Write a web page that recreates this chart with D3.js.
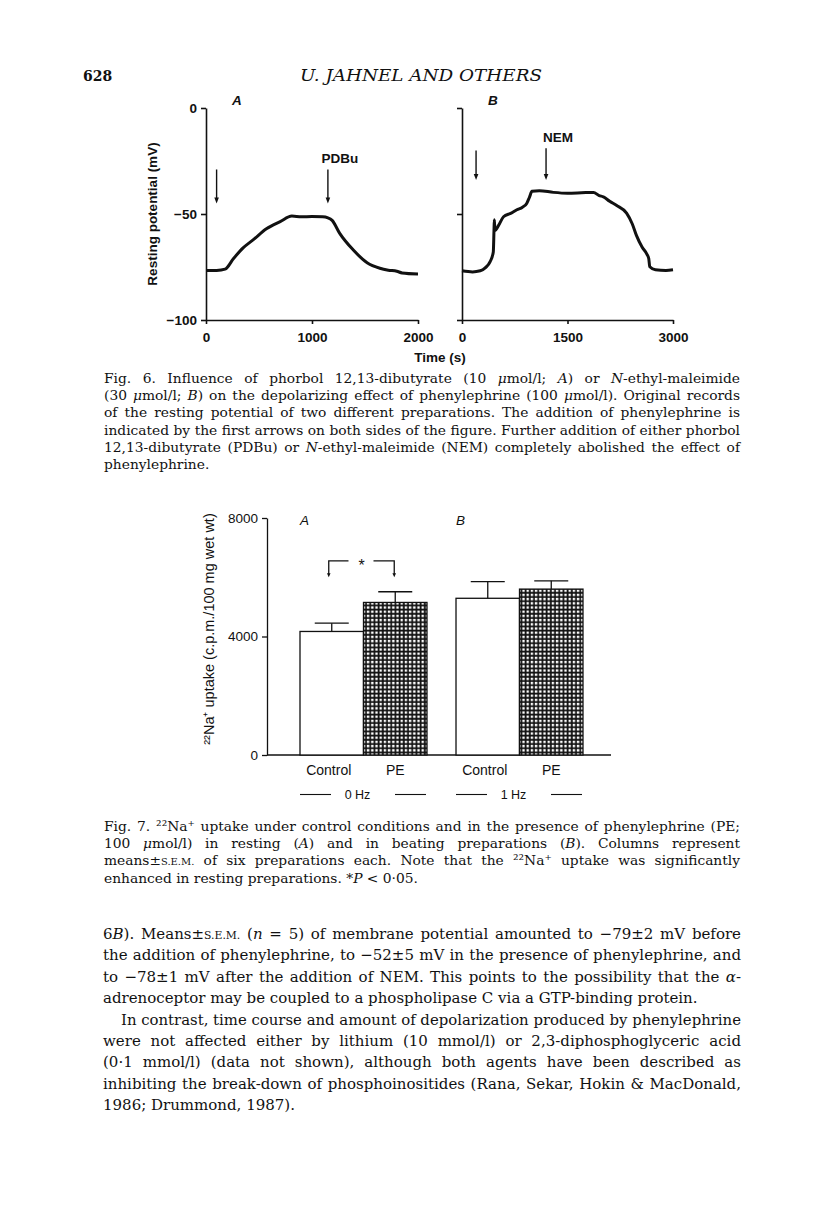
<!DOCTYPE html>
<html>
<head>
<meta charset="utf-8">
<script src="https://cdn.jsdelivr.net/npm/d3@7"></script>
<style>
  body { margin: 0; background: #fff; }
  svg { display: block; }
  .serif { font-family: "DejaVu Serif", "Liberation Serif", serif; fill: #111; }
  .sans { font-family: "Liberation Sans", Arial, sans-serif; fill: #111; }
</style>
</head>
<body>
<div id="page"></div>
<script>
// ---- Fig. 6 data: resting potential records (time in s, potential in mV) ----
var traceATime = [0, 100, 180, 260, 350, 450, 570, 700, 810, 900, 1000, 1100, 1150, 1190, 1260, 1390, 1520, 1640, 1720, 1800, 1850, 2000];
var traceAValue = [-76.7, -76.6, -76, -71, -66, -62, -57, -53.6, -51, -51.3, -51.2, -51.3, -51.8, -53, -59, -67, -73, -75.6, -76.5, -77, -77.8, -78.3];
var traceBTime = [0, 150, 260, 330, 400, 445, 455, 460, 468, 520, 590, 700, 780, 860, 920, 960, 995, 1100, 1300, 1500, 1700, 1870, 1950, 2010, 2100, 2200, 2340, 2420, 2480, 2560, 2630, 2655, 2670, 2750, 2900, 3000];
var traceBValue = [-76.8, -77.3, -76.8, -75.4, -72.5, -67.9, -57.7, -52.7, -57.7, -55.4, -51.3, -49.6, -48, -46.8, -45, -42, -39.3, -39, -39.8, -40.2, -40, -39.8, -41.3, -41.9, -44, -46, -49.6, -54.6, -60.1, -65.6, -69, -71, -74.9, -76.3, -76.6, -76.3];
var yTicks6 = [0, -50, -100];
var xTicksA = [0, 1000, 2000];
var xTicksB = [0, 1500, 3000];
// arrows: [time, top mV, bottom mV, label]
var arrowsA = [[100, -29, -45, ""], [1150, -29, -45, "PDBu"]];
var arrowsB = [[200, -20, -34, ""], [1195, -19, -34, "NEM"]];

// ---- Fig. 7 data: 22Na+ uptake (c.p.m./100 mg wet wt) ----
var groups = ["A", "B"];
var groupNames = ["0 Hz", "1 Hz"];
var conditions = ["Control", "PE"];
var uptakeMean = { A: [4170, 5150], B: [5290, 5600] };
var uptakeSem = { A: [280, 360], B: [560, 280] };
var yTicks7 = [0, 4000, 8000];
var bracketTop = 6550, bracketBottom = 6000;

// ---- page text (_italic_, {small caps}); the last line of a paragraph is not justified ----
var captionFig6 = [
  "Fig. 6. Influence of phorbol 12,13-dibutyrate (10 _μ_mol/l; _A_) or _N_-ethyl-maleimide",
  "(30 _μ_mol/l; _B_) on the depolarizing effect of phenylephrine (100 _μ_mol/l). Original records",
  "of the resting potential of two different preparations. The addition of phenylephrine is",
  "indicated by the first arrows on both sides of the figure. Further addition of either phorbol",
  "12,13-dibutyrate (PDBu) or _N_-ethyl-maleimide (NEM) completely abolished the effect of",
  "phenylephrine."
];
var captionFig7 = [
  "Fig. 7. ²²Na⁺ uptake under control conditions and in the presence of phenylephrine (PE;",
  "100 _μ_mol/l) in resting (_A_) and in beating preparations (_B_). Columns represent",
  "means±{S.E.M.} of six preparations each. Note that the ²²Na⁺ uptake was significantly",
  "enhanced in resting preparations. *_P_ < 0·05."
];
var bodyText = [
  "6_B_). Means±{S.E.M.} (_n_ = 5) of membrane potential amounted to −79±2 mV before",
  "the addition of phenylephrine, to −52±5 mV in the presence of phenylephrine, and",
  "to −78±1 mV after the addition of NEM. This points to the possibility that the _α_-",
  "adrenoceptor may be coupled to a phospholipase C via a GTP-binding protein.",
  "In contrast, time course and amount of depolarization produced by phenylephrine",
  "were not affected either by lithium (10 mmol/l) or 2,3-diphosphoglyceric acid",
  "(0·1 mmol/l) (data not shown), although both agents have been described as",
  "inhibiting the break-down of phosphoinositides (Rana, Sekar, Hokin & MacDonald,",
  "1986; Drummond, 1987)."
];
var bodyLastLines = [3, 8];

var W = 816, H = 1206;
var svg = d3.select("#page").append("svg").attr("width", W).attr("height", H);
svg.append("rect").attr("width", W).attr("height", H).attr("fill", "#fff");

// writes a line with _italic_ and {small caps} markup; justified to xEnd when given
function writeLine(g, str, x, y, size, xEnd) {
  var t = g.append("text").attr("class", "serif").attr("x", x).attr("y", y).style("font-size", size + "px");
  var parts = str.split(/(_[^_]*_|\{[^}]*\})/);
  parts.forEach(function(p) {
    if (!p) return;
    if (p[0] == "_") {
      t.append("tspan").style("font-style", "italic").text(p.slice(1, -1));
    } else if (p[0] == "{") {
      t.append("tspan").style("font-size", (size * 0.72) + "px").text(p.slice(1, -1));
    } else {
      t.append("tspan").text(p);
    }
  });
  if (!xEnd) return t;
  var target = xEnd - x;
  var natural = t.node().getComputedTextLength();
  var spaces = str.split(" ").length - 1;
  if (natural < target && spaces > 0) {
    t.style("word-spacing", ((target - natural) / spaces) + "px");
  } else {
    t.attr("textLength", target).attr("lengthAdjust", "spacingAndGlyphs");
  }
  return t;
}

// header
svg.append("text").attr("class", "serif").attr("x", 83).attr("y", 81)
  .style("font-size", "14px").style("font-weight", "bold").text("628");
svg.append("text").attr("class", "serif").attr("x", 300).attr("y", 81)
  .style("font-size", "17px").style("font-style", "italic")
  .attr("textLength", 242).attr("lengthAdjust", "spacingAndGlyphs")
  .text("U. JAHNEL AND OTHERS");

// ================= Fig. 6 =================
var y6 = d3.scaleLinear().domain([0, -100]).range([108, 320]);
var xA = d3.scaleLinear().domain([0, 2000]).range([206, 418]);
var xB = d3.scaleLinear().domain([0, 3000]).range([462, 673]);
var fig6 = svg.append("g");

function drawPanel(x, times, values, xticks, showYLabels, arrows, label) {
  var g = fig6.append("g");
  var yAxis = d3.axisLeft(y6).tickValues(yTicks6).tickSize(5).tickSizeOuter(0)
    .tickFormat(showYLabels ? function(d) { return d == 0 ? "0" : "−" + Math.abs(d); } : "");
  var ya = g.append("g").attr("transform", "translate(" + x.range()[0] + ",0)").call(yAxis);
  var xa = g.append("g").attr("transform", "translate(0," + y6(-100) + ")")
    .call(d3.axisBottom(x).tickValues(xticks).tickSize(4).tickSizeOuter(0).tickPadding(8).tickFormat(d3.format("d")));
  [ya, xa].forEach(function(a) {
    a.selectAll("path, line").attr("stroke", "#111").attr("stroke-width", 1.6);
    a.selectAll("text").attr("class", "sans").style("font-size", "13.5px").style("font-weight", "bold").attr("fill", "#111");
  });
  ya.selectAll("text").attr("dx", "-1");

  var pts = times.map(function(t, i) { return [t, values[i]]; });
  var line = d3.line().x(function(d) { return x(d[0]); }).y(function(d) { return y6(d[1]); }).curve(d3.curveMonotoneX);
  g.append("path").datum(pts).attr("d", line).attr("fill", "none")
    .attr("stroke", "#111").attr("stroke-width", 3).attr("stroke-linejoin", "round");

  arrows.forEach(function(a) {
    var ax = x(a[0]), top = y6(a[1]), bot = y6(a[2]);
    g.append("line").attr("x1", ax).attr("x2", ax).attr("y1", top).attr("y2", bot - 5)
      .attr("stroke", "#111").attr("stroke-width", 1.4);
    g.append("path").attr("d", "M" + (ax - 2.3) + "," + (bot - 6) + "L" + (ax + 2.3) + "," + (bot - 6) + "L" + ax + "," + bot + "Z")
      .attr("fill", "#111");
    if (a[3]) {
      g.append("text").attr("class", "sans").attr("x", ax + 12).attr("y", top - 6)
        .attr("text-anchor", "middle").style("font-size", "13.5px").style("font-weight", "bold").text(a[3]);
    }
  });
  g.append("text").attr("class", "sans").attr("x", x.range()[0] + 26).attr("y", 105)
    .style("font-size", "13.5px").style("font-style", "italic").style("font-weight", "bold").text(label);
}
drawPanel(xA, traceATime, traceAValue, xTicksA, true, arrowsA, "A");
drawPanel(xB, traceBTime, traceBValue, xTicksB, false, arrowsB, "B");

fig6.append("text").attr("class", "sans").attr("transform", "translate(157,214) rotate(-90)")
  .attr("text-anchor", "middle").style("font-size", "13.5px").style("font-weight", "bold")
  .text("Resting potential (mV)");
fig6.append("text").attr("class", "sans").attr("x", 440).attr("y", 362)
  .attr("text-anchor", "middle").style("font-size", "13.5px").style("font-weight", "bold").text("Time (s)");

var capTop6 = 383, capStep = 17.2, capSize = 13.8;
captionFig6.forEach(function(s, i) {
  writeLine(svg, s, 104, capTop6 + i * capStep, capSize, i < captionFig6.length - 1 ? 740 : null);
});

// ================= Fig. 7 =================
var fig7 = svg.append("g");
var defs = svg.append("defs");
var pat = defs.append("pattern").attr("id", "grid").attr("patternUnits", "userSpaceOnUse")
  .attr("width", 4.2).attr("height", 4.2);
pat.append("rect").attr("width", 4.2).attr("height", 4.2).attr("fill", "#111");
pat.append("rect").attr("x", 1.5).attr("y", 1.5).attr("width", 2.4).attr("height", 2.4).attr("fill", "#fff");

var y7 = d3.scaleLinear().domain([0, 8000]).range([755, 518]);
var xGroup = d3.scaleBand().domain(groups).range([300, 583]).paddingInner(0.186);
var xCond = d3.scaleBand().domain(conditions).range([0, xGroup.bandwidth()]);

var ya7 = fig7.append("g").attr("transform", "translate(267,0)")
  .call(d3.axisLeft(y7).tickValues(yTicks7).tickSize(5).tickSizeOuter(0).tickPadding(4).tickFormat(d3.format("d")));
ya7.selectAll("path, line").attr("stroke", "#111").attr("stroke-width", 1.3);
ya7.selectAll("text").attr("class", "sans").style("font-size", "13.5px").attr("fill", "#111");
fig7.append("line").attr("x1", 267).attr("x2", 611).attr("y1", y7(0)).attr("y2", y7(0))
  .attr("stroke", "#111").attr("stroke-width", 1.3);

var bars = [];
groups.forEach(function(gk) {
  conditions.forEach(function(c, i) {
    bars.push({ group: gk, cond: c, mean: uptakeMean[gk][i], sem: uptakeSem[gk][i] });
  });
});
function barMid(d) { return xGroup(d.group) + xCond(d.cond) + xCond.bandwidth() / 2; }
var barG = fig7.selectAll(".bar").data(bars).enter().append("g");
barG.append("line")
  .attr("x1", barMid).attr("x2", barMid)
  .attr("y1", function(d) { return y7(d.mean); })
  .attr("y2", function(d) { return y7(d.mean + d.sem); })
  .attr("stroke", "#111").attr("stroke-width", 1.3);
barG.append("line")
  .attr("x1", function(d) { return barMid(d) - 17; })
  .attr("x2", function(d) { return barMid(d) + 17; })
  .attr("y1", function(d) { return y7(d.mean + d.sem); })
  .attr("y2", function(d) { return y7(d.mean + d.sem); })
  .attr("stroke", "#111").attr("stroke-width", 1.3);
barG.append("rect")
  .attr("x", function(d) { return xGroup(d.group) + xCond(d.cond); })
  .attr("y", function(d) { return y7(d.mean); })
  .attr("width", xCond.bandwidth())
  .attr("height", function(d) { return y7(0) - y7(d.mean); })
  .attr("fill", function(d) { return d.cond == "PE" ? "url(#grid)" : "#fff"; })
  .attr("stroke", "#111").attr("stroke-width", 1.3);

// category labels and frequency labels
groups.forEach(function(gk, gi) {
  conditions.forEach(function(c) {
    fig7.append("text").attr("class", "sans")
      .attr("x", xGroup(gk) + xCond(c) + xCond.bandwidth() / 2 + (c == "PE" ? 0 : -3))
      .attr("y", 775).attr("text-anchor", "middle").style("font-size", "14px").text(c);
  });
  var gx = xGroup(gk), gw = xGroup.bandwidth();
  fig7.append("text").attr("class", "sans").attr("x", gx + gw / 2 - 6).attr("y", 799)
    .attr("text-anchor", "middle").style("font-size", "12.5px").text(groupNames[gi]);
  [[gx, gx + 31], [gx + gw - 32, gx + gw - 1]].forEach(function(seg) {
    fig7.append("line").attr("x1", seg[0]).attr("x2", seg[1]).attr("y1", 794.5).attr("y2", 794.5)
      .attr("stroke", "#111").attr("stroke-width", 1.1);
  });
  fig7.append("text").attr("class", "sans").attr("x", gx).attr("y", 525)
    .style("font-size", "13.5px").style("font-style", "italic").text(gk);
});

// significance bracket between Control and PE of group A
var bl = xGroup("A") + xCond("Control") + xCond.bandwidth() / 2 - 3;
var br = xGroup("A") + xCond("PE") + xCond.bandwidth() / 2 - 1;
var bt = y7(bracketTop), bb = y7(bracketBottom);
var bm = (bl + br) / 2;
fig7.append("path").attr("d", "M" + bl + "," + (bb - 3) + "V" + bt + "H" + (bm - 13))
  .attr("fill", "none").attr("stroke", "#111").attr("stroke-width", 1.3);
fig7.append("path").attr("d", "M" + (bm + 12) + "," + bt + "H" + br + "V" + (bb - 3))
  .attr("fill", "none").attr("stroke", "#111").attr("stroke-width", 1.3);
[bl, br].forEach(function(px) {
  fig7.append("path").attr("d", "M" + (px - 1.8) + "," + (bb - 4) + "L" + (px + 1.8) + "," + (bb - 4) + "L" + px + "," + bb + "Z")
    .attr("fill", "#111");
});
fig7.append("text").attr("class", "sans").attr("x", bm).attr("y", bt + 10)
  .attr("text-anchor", "middle").style("font-size", "16px").text("*");

fig7.append("text").attr("class", "sans").attr("transform", "translate(214,629) rotate(-90)")
  .attr("text-anchor", "middle").style("font-size", "14.5px")
  .text("²²Na⁺ uptake (c.p.m./100 mg wet wt)");

var capTop7 = 831;
captionFig7.forEach(function(s, i) {
  writeLine(svg, s, 104, capTop7 + i * capStep, capSize, i < captionFig7.length - 1 ? 740 : null);
});

// ================= body text =================
var bodyTop = 939, bodyStep = 21.4;
bodyText.forEach(function(s, i) {
  var x = i == 4 ? 121 : 103;
  writeLine(svg, s, x, bodyTop + i * bodyStep, 15, bodyLastLines.indexOf(i) >= 0 ? null : 741);
});
</script>
</body>
</html>
